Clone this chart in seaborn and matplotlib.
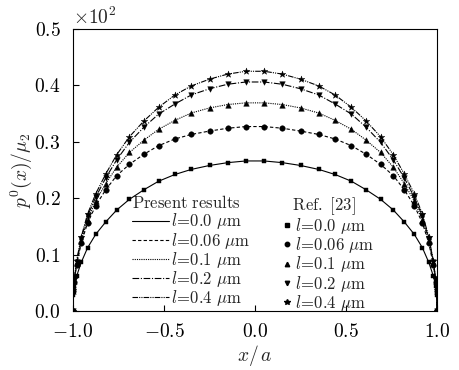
import numpy as np
import pandas as pd
import matplotlib
matplotlib.use("Agg")
import matplotlib.pyplot as plt
from matplotlib.lines import Line2D
from matplotlib.ticker import FuncFormatter
import seaborn as sns

# positions des points (x/a)
x_pos = [-1.0, -0.999, -0.993, -0.98, -0.955, -0.92, -0.875, -0.82, -0.76, -0.69,
         -0.61, -0.53, -0.44, -0.35, -0.25, -0.15, -0.05,
         0.05, 0.15, 0.25, 0.35, 0.44, 0.53, 0.61, 0.69, 0.76,
         0.82, 0.875, 0.92, 0.955, 0.98, 0.993, 0.999, 1.0]

# p0(x)/mu2 (x 10^2) pour chaque l
p_l00 = [0.0, 0.029, 0.044, 0.062, 0.086, 0.112, 0.136, 0.158, 0.179, 0.198,
         0.215, 0.230, 0.242, 0.251, 0.258, 0.263, 0.266,
         0.266, 0.263, 0.258, 0.251, 0.242, 0.230, 0.215, 0.198, 0.179,
         0.158, 0.136, 0.112, 0.086, 0.062, 0.044, 0.029, 0.0]
p_l006 = [0.0, 0.035, 0.052, 0.082, 0.120, 0.156, 0.187, 0.215, 0.240, 0.260,
          0.278, 0.293, 0.305, 0.313, 0.319, 0.324, 0.327,
          0.327, 0.324, 0.319, 0.313, 0.305, 0.293, 0.278, 0.260, 0.240,
          0.215, 0.187, 0.156, 0.120, 0.082, 0.052, 0.035, 0.0]
p_l01 = [0.0, 0.036, 0.054, 0.085, 0.124, 0.162, 0.195, 0.226, 0.255, 0.281,
         0.303, 0.322, 0.338, 0.351, 0.360, 0.366, 0.369,
         0.369, 0.366, 0.360, 0.351, 0.338, 0.322, 0.303, 0.281, 0.255,
         0.226, 0.195, 0.162, 0.124, 0.085, 0.054, 0.036, 0.0]
p_l02 = [0.0, 0.037, 0.055, 0.087, 0.128, 0.168, 0.202, 0.236, 0.268, 0.299,
         0.326, 0.349, 0.367, 0.383, 0.394, 0.402, 0.406,
         0.406, 0.402, 0.394, 0.383, 0.367, 0.349, 0.326, 0.299, 0.268,
         0.236, 0.202, 0.168, 0.128, 0.087, 0.055, 0.037, 0.0]
p_l04 = [0.0, 0.038, 0.056, 0.089, 0.131, 0.172, 0.208, 0.243, 0.277, 0.309,
         0.337, 0.361, 0.383, 0.399, 0.411, 0.420, 0.425,
         0.425, 0.420, 0.411, 0.399, 0.383, 0.361, 0.337, 0.309, 0.277,
         0.243, 0.208, 0.172, 0.131, 0.089, 0.056, 0.038, 0.0]

l_labels = ["0.0", "0.06", "0.1", "0.2", "0.4"]
x_ticks = [-1.0, -0.5, 0.0, 0.5, 1.0]
y_ticks = [0.0, 0.1, 0.2, 0.3, 0.4, 0.5]

sns.set_theme(style="ticks")
plt.rcParams["mathtext.fontset"] = "cm"
plt.rcParams["font.family"] = ["DejaVu Serif"]

series = [p_l00, p_l006, p_l01, p_l02, p_l04]
styles = ["-", (0, (3, 2)), (0, (1, 1)), (0, (6, 1.5, 1, 1.5)), (0, (5, 1, 1, 1, 1, 1))]
markers = ["s", "o", "^", "v", "*"]
msizes = [3.5, 4, 4, 4, 5]

fig = plt.figure(figsize=(4.6, 3.7), dpi=100)
ax = fig.add_axes([0.1587, 0.1595, 0.7913, 0.7622])

for p, ls, mk, ms in zip(series, styles, markers, msizes):
    df = pd.DataFrame({"x": x_pos, "p": p})
    sns.lineplot(data=df, x="x", y="p", ax=ax, color="black", lw=0.8,
                 linestyle=ls, sort=False)
    sns.scatterplot(data=df, x="x", y="p", ax=ax, color="black", marker=mk,
                    s=ms ** 2, edgecolor="black", linewidth=0.3, zorder=3)

ax.set_xlim(-1.0, 1.0)
ax.set_ylim(0.0, 0.5)
ax.set_xticks(x_ticks)
ax.set_yticks(y_ticks)
fmt = FuncFormatter(lambda v, pos: r"$%.1f$" % v)
ax.xaxis.set_major_formatter(fmt)
ax.yaxis.set_major_formatter(fmt)
ax.tick_params(direction="in", length=4, width=0.8, labelsize=14, pad=9,
               colors="black")
for sp in ax.spines.values():
    sp.set_linewidth(0.8)
    sp.set_color("black")

ax.set_xlabel(r"$x/\,a$", fontsize=14, labelpad=1)
ax.set_ylabel(r"$p^0(x)/\mu_2$", fontsize=14, labelpad=0)
ax.text(0.0, 1.005, r"$\times10^2$", transform=ax.transAxes, fontsize=14,
        ha="left", va="bottom")

# legendes
line_h = [Line2D([], [], color="black", lw=0.8, linestyle=ls) for ls in styles]
mark_h = [Line2D([], [], color="black", lw=0, marker=mk, markersize=ms * 0.8)
          for mk, ms in zip(markers, msizes)]
labels = [r"$l\!=\!%s\ \mathrm{\mu m}$" % l for l in l_labels]

leg1 = ax.legend(line_h, labels, title=r"$\mathrm{Present\ results}$",
                 loc="upper left", bbox_to_anchor=(0.14, 0.44), frameon=False,
                 fontsize=12, title_fontsize=12, handlelength=2.2,
                 handletextpad=0.1, labelspacing=-0.05, borderpad=0,
                 alignment="left")
ax.add_artist(leg1)
ax.legend(mark_h, labels, title=r"$\ \ \mathrm{Ref.\ [23]}$",
          loc="upper left", bbox_to_anchor=(0.555, 0.44), frameon=False,
          fontsize=12, title_fontsize=12, handlelength=0.4,
          handletextpad=0.3, labelspacing=-0.05, borderpad=0,
          alignment="left")

fig.savefig("out.png", dpi=100)
